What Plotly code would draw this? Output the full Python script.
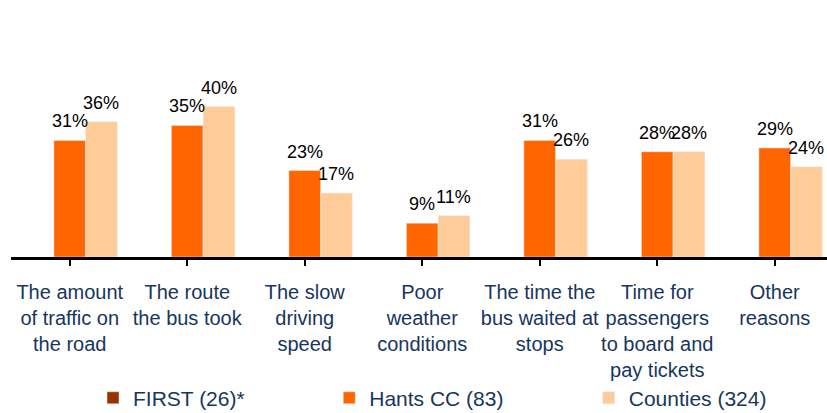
import plotly.graph_objects as go

categories = [
    "The amount<br>of traffic on<br>the road",
    "The route<br>the bus took",
    "The slow<br>driving<br>speed",
    "Poor<br>weather<br>conditions",
    "The time the<br>bus waited at<br>stops",
    "Time for<br>passengers<br>to board and<br>pay tickets",
    "Other<br>reasons",
]
first_vals = [None] * 7
hants_vals = [31, 35, 23, 9, 31, 28, 29]
counties_vals = [36, 40, 17, 11, 26, 28, 24]

series_names = ["FIRST (26)*", "Hants CC (83)", "Counties (324)"]
series_colors = ["#993300", "#FF6600", "#FFCC99"]

FONT = "Liberation Sans, Arial, sans-serif"
NAVY = "#17365D"

fig = go.Figure()
legends = ["legend", "legend2", "legend3"]
for name, vals, col, lg in zip(series_names, [first_vals, hants_vals, counties_vals],
                               series_colors, legends):
    fig.add_trace(go.Bar(x=list(range(7)), y=vals, name=name, marker_color=col,
                         legend=lg))

# value labels above the bars
bar_px = 117.5 * (1 - 0.19) / 3
for i, (h, c) in enumerate(zip(hants_vals, counties_vals)):
    for v, dx in [(h, 0), (c, bar_px)]:
        fig.add_annotation(x=i, y=v, text=f"{v}%", showarrow=False,
                           xshift=dx, yshift=7, yanchor="bottom",
                           font=dict(family=FONT, size=18, color="black"))

leg_common = dict(orientation="h", yanchor="middle", xanchor="left",
                  yref="container", y=0.036,
                  font=dict(family=FONT, size=21, color=NAVY),
                  bgcolor="rgba(0,0,0,0)")
fig.update_layout(
    width=827, height=413,
    margin=dict(l=11, r=0, t=69, b=156),
    plot_bgcolor="white", paper_bgcolor="white",
    barmode="group", bargap=0.19, bargroupgap=0,
    showlegend=True,
    legend=dict(x=0.1005, **leg_common),
    legend2=dict(x=0.390, **leg_common),
    legend3=dict(x=0.708, **leg_common),
    xaxis=dict(
        tickmode="array", tickvals=list(range(7)), ticktext=categories,
        range=[-0.5, -0.5 + 816 / 117.5],
        tickson="boundaries", ticks="outside", ticklen=6, tickwidth=1.5,
        tickcolor="black", showline=True, linecolor="black", linewidth=2.5,
        showgrid=False, tickangle=0, ticklabelstandoff=9, automargin=False,
        tickfont=dict(family=FONT, size=20, color=NAVY),
    ),
    yaxis=dict(range=[0, 50], visible=False, showgrid=False, zeroline=False),
)

# drop the default 8px page margin so the figure fills the window
fig.write_html("out.html", config={"displayModeBar": False},
               post_script="document.body.style.margin='0';")
